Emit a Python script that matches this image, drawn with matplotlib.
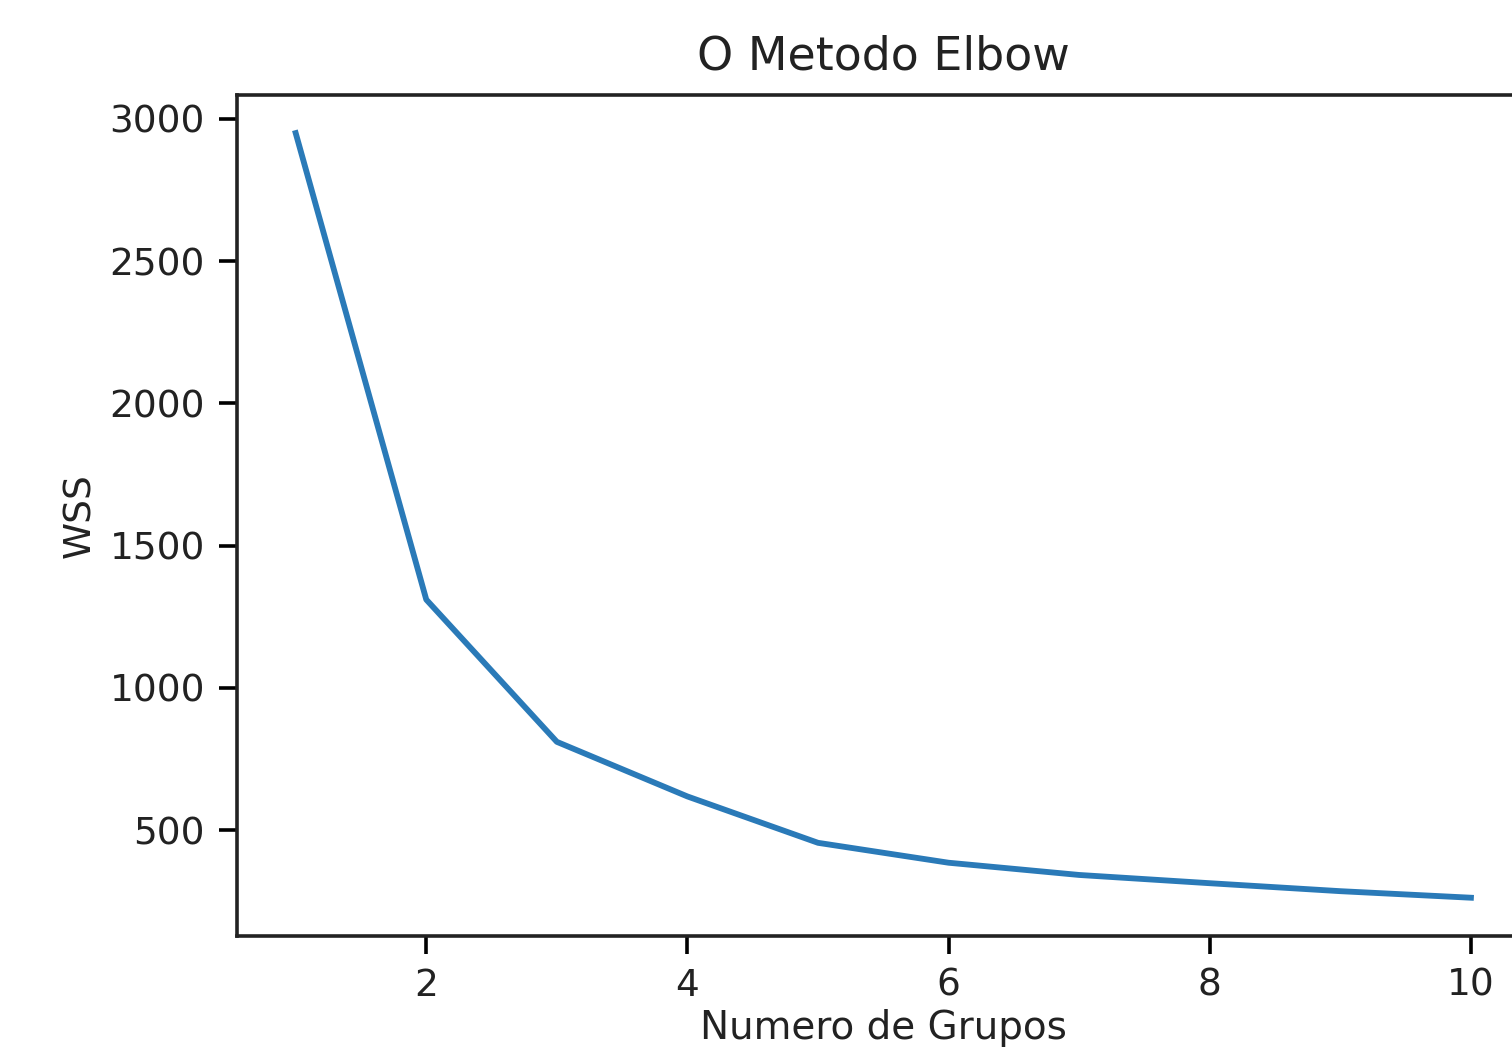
import matplotlib
matplotlib.use("Agg")
import matplotlib.pyplot as plt

# Elbow curve data
n_groups = [1, 2, 3, 4, 5, 6, 7, 8, 9, 10]
wss = [2950, 1310, 810, 618, 455, 385, 342, 313, 285, 262]

fig = plt.figure(figsize=(15.12, 10.54), dpi=100)
ax = fig.add_axes([0.1567, 0.112, 0.855, 0.798])

ax.plot(n_groups, wss, color="#2a7ab8", lw=4.2)

ax.set_title("O Metodo Elbow", fontsize=33, pad=18, color="#222222")
ax.set_xlabel("Numero de Grupos", fontsize=28, labelpad=4, color="#222222")
ax.set_ylabel("WSS", fontsize=27, labelpad=8, color="#222222")
ax.set_xticks([2, 4, 6, 8, 10])
ax.set_yticks([500, 1000, 1500, 2000, 2500, 3000])
ax.tick_params(labelsize=27, length=13, width=2.6, pad=10, labelcolor="#222222")
for sp in ax.spines.values():
    sp.set_linewidth(2.6)
    sp.set_color("#222222")

fig.savefig("out.png", dpi=100)
